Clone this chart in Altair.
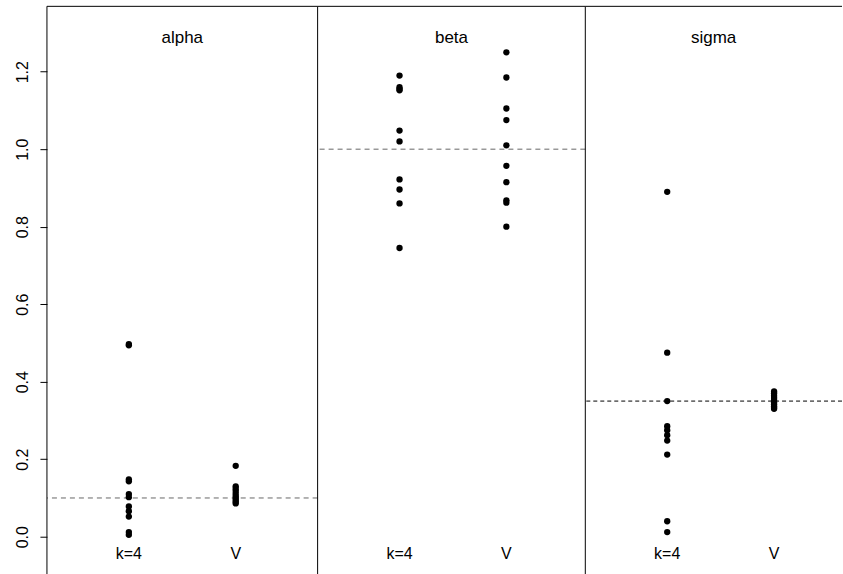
import altair as alt
import pandas as pd

params = ["alpha", "beta", "sigma"]
methods = ["k=4", "V"]
truth = [0.1, 1.0, 0.35]
y_ticks = [0.0, 0.2, 0.4, 0.6, 0.8, 1.0, 1.2]

alpha_k4 = [0.497, 0.494, 0.148, 0.143, 0.110, 0.102, 0.078, 0.066, 0.052, 0.012, 0.005]
alpha_V = [0.183, 0.130, 0.124, 0.118, 0.111, 0.105, 0.100, 0.095, 0.090, 0.086]
beta_k4 = [1.190, 1.160, 1.152, 1.155, 1.048, 1.020, 0.922, 0.896, 0.860, 0.745]
beta_V = [1.250, 1.185, 1.105, 1.075, 1.010, 0.957, 0.915, 0.868, 0.862, 0.800]
sigma_k4 = [0.890, 0.475, 0.350, 0.285, 0.275, 0.262, 0.248, 0.212, 0.040, 0.012]
sigma_V = [0.375, 0.370, 0.364, 0.358, 0.352, 0.347, 0.342, 0.337, 0.333, 0.330]

series = {
    "alpha": (alpha_k4, alpha_V),
    "beta": (beta_k4, beta_V),
    "sigma": (sigma_k4, sigma_V),
}

LEFT = 47
W = [271, 268]
W.append(843 - LEFT - sum(W))
H = 564
YDOM = [-0.085, 1.3686]
FONT = "Liberation Sans"
rule_colors = ["#666666", "#666666", "#000000"]
rule_dash = [[5, 4], [5, 4], [4, 3]]
STEP = 107
FIRST = 82


def panel(i):
    p = params[i]
    rows = []
    for m, vals in zip(methods, series[p]):
        for v in vals:
            rows.append({"method": m, "value": v})
    pdf = pd.DataFrame(rows)
    tdf = pd.DataFrame({"truth": [truth[i]], "name": [p]})
    ldf = pd.DataFrame({"method": methods})

    yscale = alt.Scale(domain=YDOM, nice=False, zero=False)
    xscale = alt.Scale(domain=methods, padding=(W[i] / STEP - 1) / 2,
                       align=FIRST / (W[i] - STEP))
    if i == 0:
        yaxis = alt.Axis(values=y_ticks, format=".1f", labelAngle=270,
                         labelFontSize=16, labelPadding=9, tickSize=7,
                         domain=False, grid=False, title=None,
                         minExtent=LEFT, maxExtent=LEFT)
    else:
        yaxis = None

    # panel frame: left edge and top edge, running off the bottom of the page
    left_edge = alt.Chart(tdf).mark_rule(color="black", strokeWidth=1).encode(
        x=alt.value(0), y=alt.value(0), y2=alt.value(H + 8)
    )
    top_edge = alt.Chart(tdf).mark_rule(color="black", strokeWidth=1).encode(
        x=alt.value(0), x2=alt.value(W[i]), y=alt.value(0)
    )
    pts = alt.Chart(pdf).mark_circle(size=40, color="black", opacity=1).encode(
        x=alt.X("method:N", scale=xscale, axis=None),
        y=alt.Y("value:Q", scale=yscale, axis=yaxis),
    )
    rule = alt.Chart(tdf).mark_rule(
        strokeDash=rule_dash[i], color=rule_colors[i], strokeWidth=1
    ).encode(y=alt.Y("truth:Q", scale=yscale, axis=yaxis))
    ttl = alt.Chart(tdf).mark_text(
        fontSize=17, font=FONT, color="black", baseline="middle"
    ).encode(text="name:N", x=alt.value(W[i] / 2), y=alt.value(32))
    lab = alt.Chart(ldf).mark_text(
        fontSize=16, font=FONT, color="black", baseline="middle"
    ).encode(x=alt.X("method:N", scale=xscale, axis=None),
             text="method:N", y=alt.value(H - 16))
    return alt.layer(rule, pts, ttl, lab, left_edge, top_edge).properties(
        width=W[i], height=H
    )


chart = alt.hconcat(*[panel(i) for i in range(3)], spacing=0, bounds="flush").properties(
    padding={"left": 0, "top": 5, "right": 0, "bottom": 5}
).configure_view(
    strokeWidth=0
).configure_axis(
    labelFont=FONT, labelColor="black", tickColor="black"
)

chart.save("out.html", embed_options={"renderer": "svg", "actions": False})
